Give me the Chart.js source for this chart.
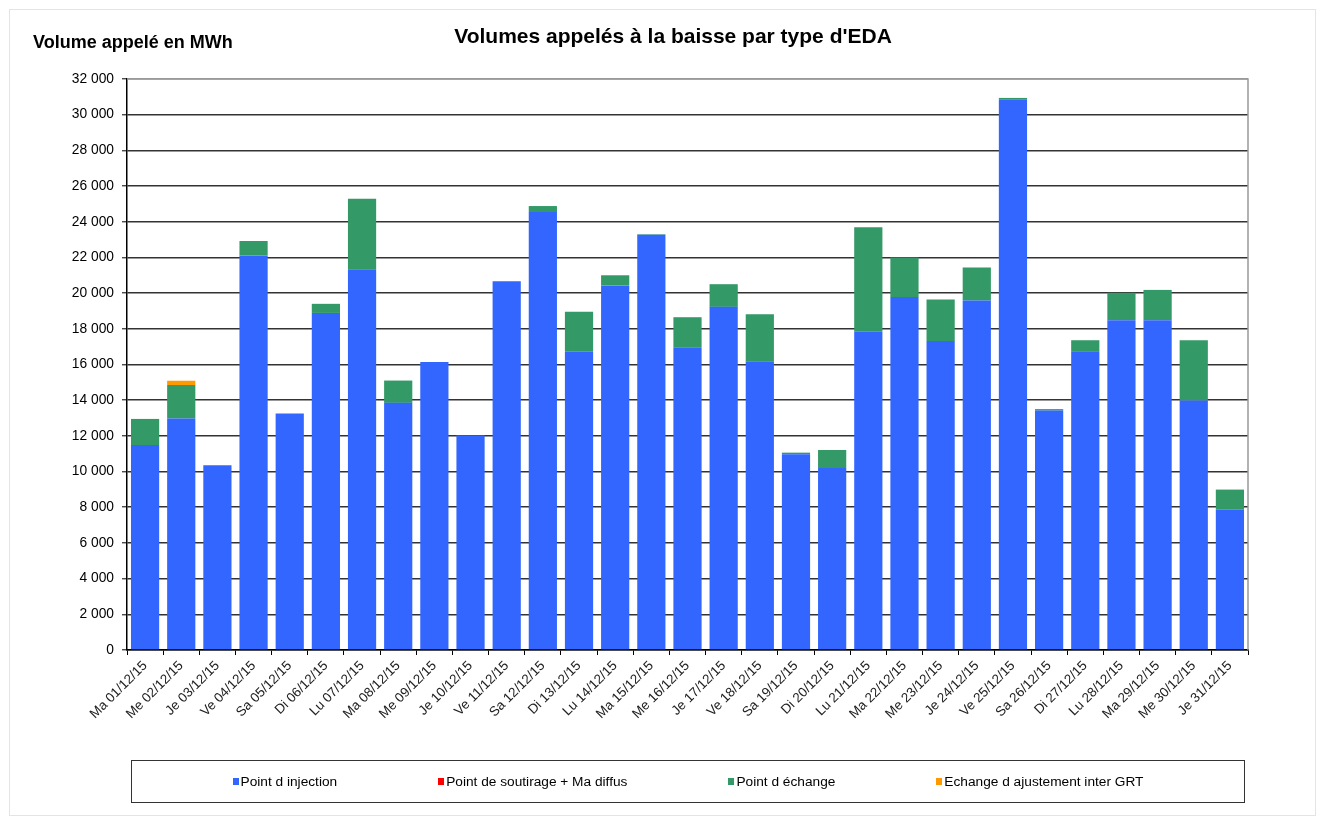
<!DOCTYPE html>
<html lang="fr">
<head>
<meta charset="utf-8">
<title>Volumes appelés à la baisse par type d'EDA</title>
<script src="https://cdn.jsdelivr.net/npm/chart.js@4/dist/chart.umd.min.js"></script>
<style>
  html, body { margin: 0; padding: 0; background: #fff; }
  body { width: 1325px; height: 820px; position: relative; overflow: hidden; font-family: Arial, "Liberation Sans", sans-serif; }
  .frame { position: absolute; left: 9px; top: 9px; width: 1305px; height: 805px; border: 1px solid #e4e4e4; }
  .chart { position: absolute; left: 0; top: 0; width: 1325px; height: 820px; }
  .title { position: absolute; left: 0; width: 1346px; top: 24px; text-align: center; font-weight: bold; font-size: 21px; color: #000; }
  .ytitle { position: absolute; left: 33px; top: 32px; font-weight: bold; font-size: 18px; color: #000; }
  .legend { position: absolute; left: 131px; top: 760px; width: 1112px; height: 41px; border: 1.5px solid #333;
            display: flex; justify-content: center; align-items: center; gap: 101px; font-size: 13.7px; color: #000; }
  .legend__item { display: flex; align-items: center; }
  .legend__box { width: 6px; height: 7px; margin-right: 2px; }
</style>
</head>
<body>
<div class="frame"></div>
<div class="chart"><canvas id="myChart" width="1325" height="820"></canvas></div>
<div class="title">Volumes appelés à la baisse par type d'EDA</div>
<div class="ytitle">Volume appelé en MWh</div>
<div class="legend"></div>
<script>
const dates = [
  'Ma 01/12/15', 'Me 02/12/15', 'Je 03/12/15', 'Ve 04/12/15', 'Sa 05/12/15', 'Di 06/12/15',
  'Lu 07/12/15', 'Ma 08/12/15', 'Me 09/12/15', 'Je 10/12/15', 'Ve 11/12/15', 'Sa 12/12/15',
  'Di 13/12/15', 'Lu 14/12/15', 'Ma 15/12/15', 'Me 16/12/15', 'Je 17/12/15', 'Ve 18/12/15',
  'Sa 19/12/15', 'Di 20/12/15', 'Lu 21/12/15', 'Ma 22/12/15', 'Me 23/12/15', 'Je 24/12/15',
  'Ve 25/12/15', 'Sa 26/12/15', 'Di 27/12/15', 'Lu 28/12/15', 'Ma 29/12/15', 'Me 30/12/15',
  'Je 31/12/15'
]

// MWh
const injection = [
  11490, 12970, 10350, 22100, 13250, 18890, 21340, 13850, 16140, 12000, 20660, 24540,
  16710, 20420, 23270, 16970, 19230, 16180, 10970, 10200, 17830, 19780, 17310, 19580,
  30870, 13420, 16710, 18480, 18480, 13980, 7870
]
const soutirage = new Array(31).fill(0) // rien de visible
const echange = [
  1460, 1880, 0, 820, 0, 510, 3950, 1250, 0, 30, 0, 340,
  2250, 580, 30, 1680, 1270, 2640, 90, 1010, 5860, 2210, 2330, 1850,
  70, 80, 650, 1540, 1700, 3380, 1120
]
const ajustement = [
  0, 240, 0, 0, 0, 0, 0, 0, 0, 0, 0, 0,
  0, 0, 0, 0, 0, 0, 0, 0, 0, 0, 0, 0,
  0, 0, 0, 0, 0, 0, 0
]

const yTicks = { min: 0, max: 32000, step: 2000 }

const fmt = (v) => String(v).replace(/\B(?=(\d{3})+(?!\d))/g, ' ')

// cadre gris haut / droite de la zone de tracé
const frameBorder = {
  id: 'frameBorder',
  afterDraw(chart) {
    const { ctx, chartArea: a } = chart
    ctx.save()
    ctx.strokeStyle = '#999'
    ctx.lineWidth = 1.5
    ctx.beginPath()
    ctx.moveTo(a.left, a.top)
    ctx.lineTo(a.right, a.top)
    ctx.lineTo(a.right, a.bottom)
    ctx.stroke()
    ctx.restore()
  }
}

const ctx = document.getElementById('myChart').getContext('2d')
const myChart = new Chart(ctx, {
  type: 'bar',
  data: {
    labels: dates,
    datasets: [
      { label: 'Point d injection', data: injection, backgroundColor: '#3366FF' },
      { label: 'Point de soutirage + Ma diffus', data: soutirage, backgroundColor: '#FF0000' },
      { label: 'Point d échange', data: echange, backgroundColor: '#339966' },
      { label: 'Echange d ajustement inter GRT', data: ajustement, backgroundColor: '#FF9900' },
    ]
  },
  options: {
    responsive: false,
    animation: false,
    layout: { padding: { left: 0, top: 79, right: 77, bottom: 0 } },
    datasets: { bar: { categoryPercentage: 1, barPercentage: 0.78, borderWidth: 0 } },
    scales: {
      x: {
        stacked: true,
        afterFit: (s) => { s.height = 170 },
        grid: { offset: true, drawOnChartArea: false, color: '#000', tickLength: 5, lineWidth: 1 },
        border: { color: '#000', width: 1.5 },
        ticks: {
          autoSkip: false, maxRotation: 45, minRotation: 45, color: '#222',
          font: { family: 'Arial, "Liberation Sans"', size: 13.4 }
        }
      },
      y: {
        stacked: true,
        min: yTicks.min,
        max: yTicks.max,
        afterFit: (s) => { s.width = 127 },
        grid: {
          color: (c) => c.tick && c.tick.value === yTicks.max ? '#999' : '#333',
          lineWidth: 1.6,
          tickLength: 5,
          tickColor: '#000',
          tickWidth: 1
        },
        border: { color: '#000', width: 1.5 },
        ticks: {
          stepSize: yTicks.step, color: '#000', padding: 8,
          font: { family: 'Arial, "Liberation Sans"', size: 13.8 },
          callback: (v) => fmt(v)
        }
      }
    },
    plugins: {
      legend: { display: false },
      title: { display: false },
      tooltip: { enabled: false }
    }
  },
  plugins: [frameBorder]
})

// légende HTML dans un cadre, construite depuis les datasets
const legendEl = document.querySelector('.legend')
myChart.data.datasets.forEach(ds => {
  const item = document.createElement('div')
  item.className = 'legend__item'
  const box = document.createElement('span')
  box.className = 'legend__box'
  box.style.background = ds.backgroundColor
  const txt = document.createElement('span')
  txt.textContent = ds.label
  item.append(box, txt)
  legendEl.append(item)
})
</script>
</body>
</html>
